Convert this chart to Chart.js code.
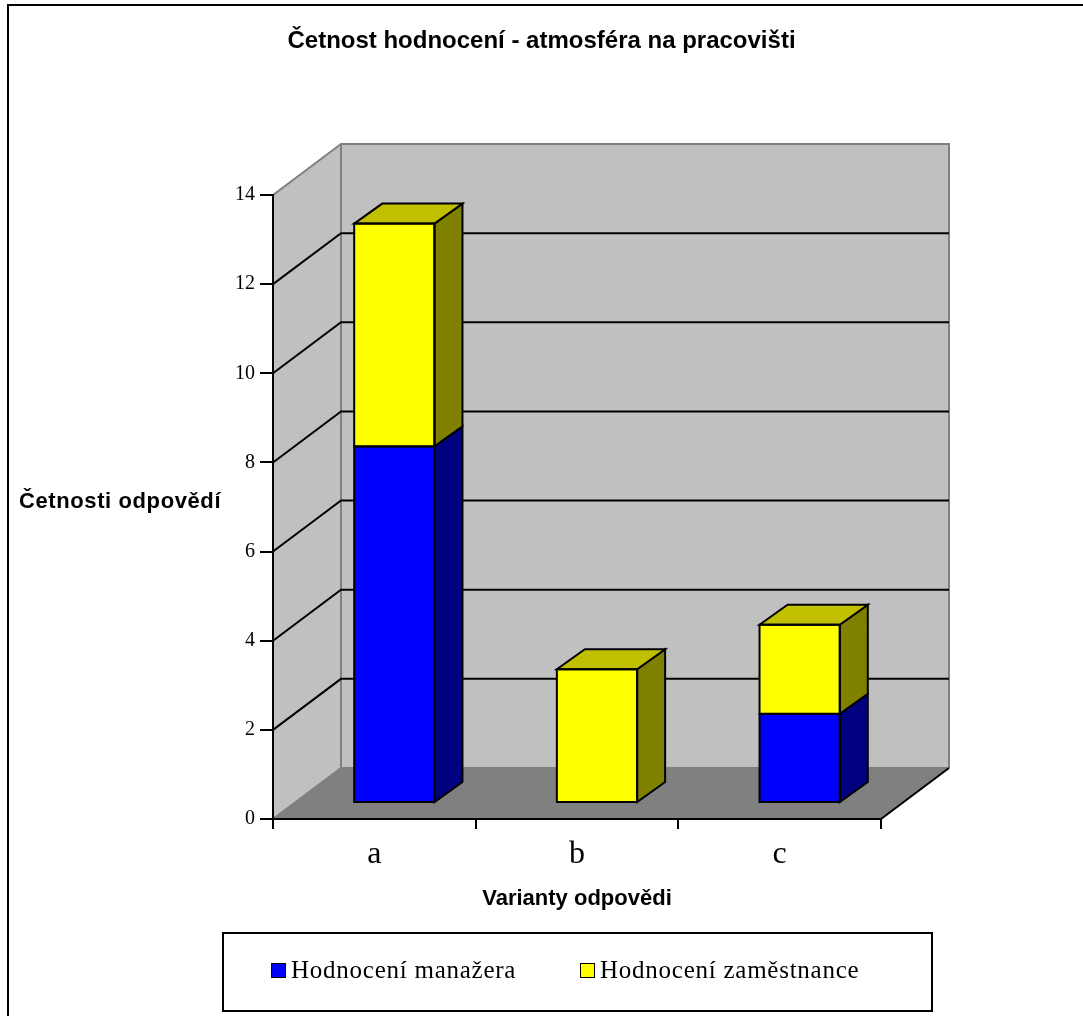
<!DOCTYPE html>
<html>
<head>
<meta charset="utf-8">
<script src="https://cdn.jsdelivr.net/npm/chart.js@4.4.0/dist/chart.umd.min.js"></script>
<style>
html, body { margin: 0; padding: 0; background: #fff; }
</style>
</head>
<body>

<canvas id="myChart" width="1083" height="1016"></canvas>

<script>
var categories = ['a', 'b', 'c'];
var manazer = [8, 0, 2];
var zamestnanec = [5, 3, 2];
var seriesNames = ['Hodnocení manažera', 'Hodnocení zaměstnance'];
var chartTitle = 'Četnost hodnocení - atmosféra na pracovišti';
var xTitle = 'Varianty odpovědi';
var yTitle = 'Četnosti odpovědí';

var SANS = '"Liberation Sans", Arial, sans-serif';
var SERIF = '"Liberation Serif", "Times New Roman", serif';

// fake 3d: how far the back wall / bars sit behind the front axes
var WALL_DX = 68, WALL_DY = -51;
var BAR_DX = 20, BAR_DY = -16;
var SIDE_DX = 28, SIDE_DY = -20;

var frontColors = ['#0000ff', '#ffff00'];
var sideColors = ['#000080', '#808000'];
var topColors = ['#0000c0', '#c0c000'];

function poly(ctx, pts, fill, stroke) {
	ctx.beginPath();
	ctx.moveTo(pts[0][0], pts[0][1]);
	for (var i = 1; i < pts.length; i++) ctx.lineTo(pts[i][0], pts[i][1]);
	ctx.closePath();
	ctx.fillStyle = fill;
	ctx.fill();
	if (stroke) ctx.stroke();
}

var box3d = {
	id: 'box3d',
	beforeDraw: function (chart) {
		var ctx = chart.ctx, a = chart.chartArea, y = chart.scales.y;
		var L = a.left, R = a.right, T = a.top, B = a.bottom;
		ctx.save();
		ctx.fillStyle = '#fff';
		ctx.fillRect(0, 0, chart.width, chart.height);
		// frame, only left and top edge are in the picture
		ctx.strokeStyle = '#000';
		ctx.lineWidth = 2;
		ctx.beginPath();
		ctx.moveTo(8, chart.height); ctx.lineTo(8, 5); ctx.lineTo(chart.width, 5);
		ctx.stroke();

		ctx.fillStyle = '#c0c0c0';
		ctx.fillRect(L + WALL_DX, T + WALL_DY, R - L, B - T);
		poly(ctx, [[L, T], [L + WALL_DX, T + WALL_DY], [L + WALL_DX, B + WALL_DY], [L, B]], '#c0c0c0');
		poly(ctx, [[L, B], [L + WALL_DX, B + WALL_DY], [R + WALL_DX, B + WALL_DY], [R, B]], '#808080');

		ctx.strokeStyle = '#808080';
		ctx.lineWidth = 2;
		ctx.beginPath();
		ctx.moveTo(L, T); ctx.lineTo(L + WALL_DX, T + WALL_DY);
		ctx.lineTo(R + WALL_DX, T + WALL_DY); ctx.lineTo(R + WALL_DX, B + WALL_DY);
		ctx.moveTo(L + WALL_DX, T + WALL_DY); ctx.lineTo(L + WALL_DX, B + WALL_DY);
		ctx.lineTo(R + WALL_DX, B + WALL_DY);
		ctx.moveTo(L, B); ctx.lineTo(L + WALL_DX, B + WALL_DY);
		ctx.stroke();

		ctx.strokeStyle = '#000';
		y.ticks.forEach(function (t) {
			if (t.value <= y.min || t.value >= y.max) return;
			var py = y.getPixelForValue(t.value);
			ctx.beginPath();
			ctx.moveTo(L, py);
			ctx.lineTo(L + WALL_DX, py + WALL_DY);
			ctx.lineTo(R + WALL_DX, py + WALL_DY);
			ctx.stroke();
		});
		ctx.beginPath();
		ctx.moveTo(R, B); ctx.lineTo(R + WALL_DX, B + WALL_DY);
		ctx.stroke();
		ctx.restore();
	},
	beforeDatasetsDraw: function (chart) {
		chart.ctx.save();
		chart.ctx.translate(BAR_DX, BAR_DY);
	},
	afterDatasetsDraw: function (chart) {
		var ctx = chart.ctx;
		ctx.strokeStyle = '#000';
		ctx.lineWidth = 2;
		ctx.lineJoin = 'miter';
		for (var i = 0; i < chart.data.labels.length; i++) {
			var topDs = -1;
			chart.data.datasets.forEach(function (ds, d) { if (ds.data[i] > 0) topDs = d; });
			chart.data.datasets.forEach(function (ds, d) {
				if (!(ds.data[i] > 0)) return;
				var el = chart.getDatasetMeta(d).data[i];
				var l = el.x - el.width / 2, r = el.x + el.width / 2, t = el.y, b = el.base;
				poly(ctx, [[r, t], [r + SIDE_DX, t + SIDE_DY], [r + SIDE_DX, b + SIDE_DY], [r, b]], sideColors[d], true);
				if (d === topDs) {
					poly(ctx, [[l, t], [l + SIDE_DX, t + SIDE_DY], [r + SIDE_DX, t + SIDE_DY], [r, t]], topColors[d], true);
				}
				ctx.strokeRect(l, t, r - l, b - t);
			});
		}
		ctx.restore();
	},
	afterDraw: function (chart) {
		var ctx = chart.ctx, a = chart.chartArea;
		ctx.save();
		ctx.fillStyle = '#000';
		ctx.textBaseline = 'middle';
		ctx.textAlign = 'left';
		ctx.font = 'bold 22px ' + SANS;
		ctx.letterSpacing = '0.6px';
		ctx.fillText(yTitle, 19, (a.top + a.bottom) / 2 - 5);

		// legend with its frame
		ctx.strokeStyle = '#000';
		ctx.lineWidth = 2;
		ctx.strokeRect(223, 933, 709, 78);
		var itemX = [271, 580];
		ctx.font = '25px ' + SERIF;
		ctx.letterSpacing = '0.75px';
		ctx.lineWidth = 1;
		chart.data.datasets.forEach(function (ds, d) {
			var x = itemX[d];
			ctx.fillStyle = ds.backgroundColor;
			ctx.fillRect(x, 963, 14, 14);
			ctx.strokeRect(x + 0.5, 963.5, 14, 14);
			ctx.fillStyle = '#000';
			ctx.fillText(ds.label, x + 20, 971);
		});
		ctx.restore();
	}
};

new Chart('myChart', {
	type: 'bar',
	data: {
		labels: categories,
		datasets: [
			{ label: seriesNames[0], data: manazer, backgroundColor: frontColors[0], borderWidth: 0 },
			{ label: seriesNames[1], data: zamestnanec, backgroundColor: frontColors[1], borderWidth: 0 }
		]
	},
	options: {
		responsive: false,
		animation: false,
		layout: { padding: { left: 202, right: 202, top: 0, bottom: 104 } },
		datasets: { bar: { barPercentage: 0.396, categoryPercentage: 1, clip: false } },
		plugins: {
			legend: { display: false },
			tooltip: { enabled: false },
			title: {
				display: true,
				text: chartTitle,
				color: '#000',
				font: { family: SANS, size: 24, weight: 'bold' },
				padding: { top: 26.6, bottom: 139.6 }
			}
		},
		scales: {
			x: {
				stacked: true,
				offset: true,
				grid: { offset: true, drawOnChartArea: false, tickLength: 10, color: '#000', lineWidth: 2 },
				border: { color: '#000', width: 2 },
				ticks: { color: '#000', font: { family: SERIF, size: 32 }, padding: 6 },
				title: { display: true, text: xTitle, color: '#000', font: { family: SANS, size: 22, weight: 'bold' }, padding: 0 },
				afterFit: function (s) { s.height = 93; }
			},
			y: {
				stacked: true,
				min: 0,
				max: 14,
				grid: { drawOnChartArea: false, tickLength: 13, color: '#000', lineWidth: 2 },
				border: { color: '#000', width: 2 },
				ticks: { stepSize: 2, color: '#000', font: { family: SERIF, size: 20 }, padding: 5 },
				afterFit: function (s) { s.width = 71; }
			}
		}
	},
	plugins: [box3d]
});
</script>

</body>
</html>
